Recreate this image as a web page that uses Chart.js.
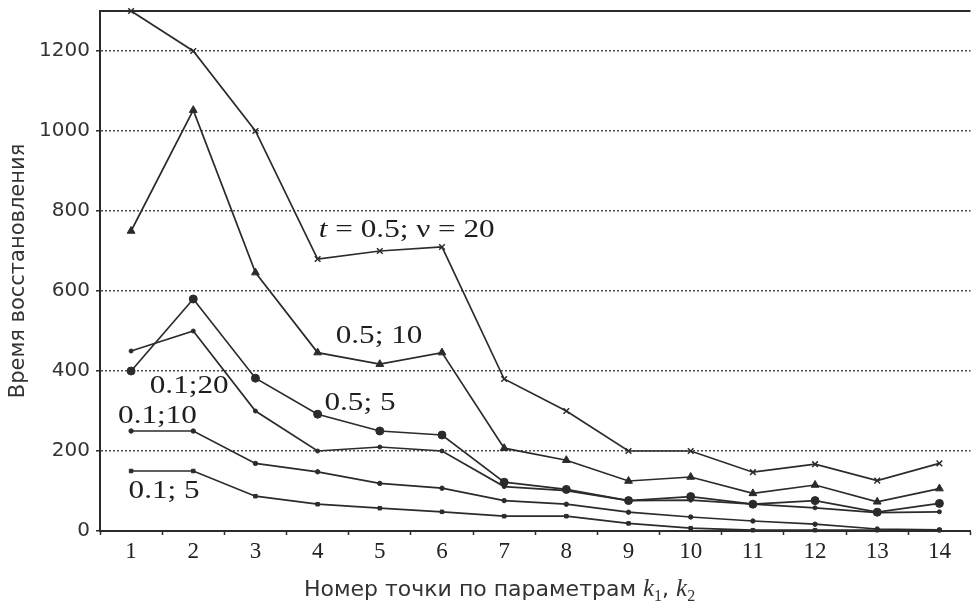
<!DOCTYPE html>
<html>
<head>
<meta charset="utf-8">
<script src="https://cdn.jsdelivr.net/npm/chart.js@4/dist/chart.umd.min.js"></script>
<style>
  html, body { margin: 0; padding: 0; background: #fff; overflow: hidden; }
  #wrap { width: 976px; height: 602px; }
</style>
</head>
<body>
<div id="wrap"><canvas id="c" width="976" height="602"></canvas></div>
<script>
// Point numbers along the (k1, k2) parameter grid
const categories = ['1','2','3','4','5','6','7','8','9','10','11','12','13','14'];
const yTickValues = [0, 200, 400, 600, 800, 1000, 1200];

// Recovery time for each (t; ν) combination
const t05v20 = [1300, 1200, 1000, 680, 700, 710, 380, 300, 200, 200, 147, 167, 126, 169];
const t05v10 = [750, 1052, 646, 446, 417, 446, 207, 177, 125, 135, 94, 115, 73, 106];
const t05v5  = [400, 580, 382, 292, 250, 240, 122, 104, 76, 86, 67, 76, 47, 69];
const t01v20 = [450, 500, 300, 200, 210, 200, 111, 101, 76, 77, 67, 58, 46, 48];
const t01v10 = [250, 250, 169, 148, 119, 107, 76, 67, 47, 35, 25, 17, 5, 3];
const t01v5  = [150, 150, 87, 67, 57, 48, 37, 37, 19, 7, 2, 2, 2, 2];

const INK = '#2b2b2b';

// In-plot curve labels, anchored in data space (category index, value)
const curveNotes = [
  { parts: [['t', true], [' = 0.5; \u03bd = 20', false]], at: [3.02, 735] },
  { parts: [['0.5; 10', false]], at: [3.29, 470] },
  { parts: [['0.1;20', false]], at: [0.30, 345] },
  { parts: [['0.5; 5', false]], at: [3.11, 302] },
  { parts: [['0.1;10', false]], at: [-0.21, 270] },
  { parts: [['0.1; 5', false]], at: [-0.04, 82] }
];

const notesPlugin = {
  id: 'curveNotes',
  afterDatasetsDraw(chart) {
    const { ctx, scales: { x, y } } = chart;
    ctx.save();
    ctx.fillStyle = '#1e1e1e';
    ctx.textBaseline = 'alphabetic';
    ctx.textAlign = 'left';
    curveNotes.forEach(n => {
      const px = x.getPixelForValue(n.at[0]);
      const py = y.getPixelForValue(n.at[1]);
      ctx.save();
      ctx.translate(px, py);
      ctx.scale(1.2, 1);
      let cx = 0;
      n.parts.forEach(([txt, ital]) => {
        ctx.font = (ital ? 'italic ' : '') + '26px "Liberation Serif", serif';
        ctx.fillText(txt, cx, 0);
        cx += ctx.measureText(txt).width;
      });
      ctx.restore();
    });
    ctx.restore();
  }
};

// Top frame line and the x-axis title with italic k and subscripts
const framePlugin = {
  id: 'frame',
  beforeDatasetsDraw(chart) {
    const { ctx, chartArea: a } = chart;
    ctx.save();
    ctx.strokeStyle = INK;
    ctx.lineWidth = 2;
    ctx.beginPath();
    ctx.moveTo(a.left, a.top);
    ctx.lineTo(a.right, a.top);
    ctx.stroke();
    ctx.restore();
  },
  afterDraw(chart) {
    const { ctx, chartArea: a } = chart;
    const sans = '22px "DejaVu Sans", sans-serif';
    const kFont = 'italic 25px "Liberation Serif", serif';
    const subFont = '16px "Liberation Serif", serif';
    const parts = [
      ['Номер точки по параметрам ', sans, 0],
      ['k', kFont, 0],
      ['1', subFont, 5],
      [', ', sans, 0],
      ['k', kFont, 0],
      ['2', subFont, 5]
    ];
    ctx.save();
    ctx.fillStyle = '#333';
    ctx.textBaseline = 'alphabetic';
    ctx.textAlign = 'left';
    let total = 0;
    parts.forEach(p => { ctx.font = p[1]; total += ctx.measureText(p[0]).width; });
    const cxCenter = a.left + (a.right - a.left) * 0.459;
    let cx = cxCenter - total / 2;
    const base = a.bottom + 65;
    parts.forEach(p => {
      ctx.font = p[1];
      ctx.fillText(p[0], cx, base + p[2]);
      cx += ctx.measureText(p[0]).width;
    });
    ctx.restore();
  }
};

function series(data, style, radius) {
  return {
    data,
    borderColor: INK,
    backgroundColor: INK,
    borderWidth: 1.7,
    pointStyle: style,
    pointRadius: radius,
    pointBorderWidth: style === 'crossRot' ? 1.5 : 1,
    pointBorderColor: INK,
    pointBackgroundColor: INK,
    tension: 0,
    fill: false,
    clip: false
  };
}

new Chart(document.getElementById('c'), {
  type: 'line',
  data: {
    labels: categories,
    datasets: [
      series(t05v20, 'crossRot', 4),
      series(t05v10, 'triangle', 4.5),
      series(t05v5, 'circle', 4),
      series(t01v20, 'circle', 2),
      series(t01v10, 'circle', 2.2),
      series(t01v5, 'rect', 2.5)
    ]
  },
  options: {
    responsive: false,
    animation: false,
    layout: { padding: { top: 11, right: 0, left: 0, bottom: 0 } },
    plugins: { legend: { display: false }, tooltip: { enabled: false } },
    scales: {
      x: {
        type: 'category',
        offset: true,
        afterFit(s) { s.height = 71; s.paddingLeft = 0; s.paddingRight = 0; },
        grid: {
          offset: true,
          drawOnChartArea: false,
          drawTicks: true,
          tickLength: 4,
          tickColor: INK,
          tickWidth: 1.5
        },
        border: { display: true, color: INK, width: 2 },
        ticks: {
          color: '#222',
          padding: 3,
          maxRotation: 0,
          autoSkip: false,
          font: { family: '"Liberation Serif", serif', size: 23 }
        }
      },
      y: {
        min: 0,
        max: 1300,
        afterFit(s) { s.width = 100; s.paddingTop = 0; s.paddingBottom = 0; },
        afterBuildTicks(s) {
          s.ticks = yTickValues.map(v => ({ value: v }));
        },
        grid: {
          color: '#4a4a4a',
          lineWidth: 1.5,
          drawTicks: true,
          tickLength: 4,
          tickColor: INK,
          tickBorderDash: [],
          tickWidth: 1.5
        },
        border: { display: true, color: INK, width: 2, dash: [2, 2] },
        ticks: {
          color: '#333',
          padding: 6,
          font: { family: '"DejaVu Sans", sans-serif', size: 20 },
          callback: v => String(v)
        },
        title: {
          display: true,
          text: 'Время восстановления',
          color: '#333',
          padding: { top: 6, bottom: 0 },
          font: { family: '"DejaVu Sans", sans-serif', size: 21 }
        }
      }
    }
  },
  plugins: [framePlugin, notesPlugin]
});
</script>
</body>
</html>
